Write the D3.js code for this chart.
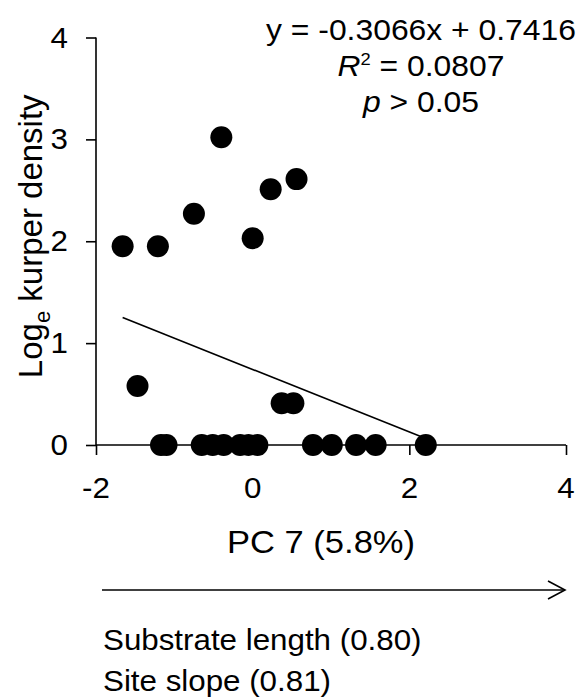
<!DOCTYPE html>
<html>
<head>
<meta charset="utf-8">
<script src="https://cdn.jsdelivr.net/npm/d3@7"></script>
<style>
  html, body { margin: 0; padding: 0; background: #fff; }
  svg { display: block; }
  text { font-family: "Liberation Sans", Arial, sans-serif; fill: #000; }
</style>
</head>
<body>
<svg id="chart" width="579" height="699"></svg>
<script>
// PC 7 site scores and log-transformed kurper density
const pcScores = [-1.66, -1.21, -0.75, -0.40, 0.00, 0.23, 0.56,
                  -1.47, 0.37, 0.52,
                  -1.17, -1.10, -0.65, -0.51, -0.37, -0.16, -0.05, 0.06,
                  0.77, 1.01, 1.32, 1.57, 2.21];
const logDensity = [1.95, 1.95, 2.27, 3.02, 2.03, 2.51, 2.61,
                    0.58, 0.41, 0.41,
                    0, 0, 0, 0, 0, 0, 0, 0,
                    0, 0, 0, 0, 0];
const xTicks = [-2, 0, 2, 4];
const yTicks = [0, 1, 2, 3, 4];
const slope = -0.3066;
const intercept = 0.7416;
const rSquared = "0.0807";
const loadings = ["Substrate length (0.80)", "Site slope (0.81)"];

const svg = d3.select("#chart");
const x = d3.scaleLinear().domain([-2, 4]).range([96, 566]);
const y = d3.scaleLinear().domain([0, 4]).range([445, 37.5]);
const SX = 1.08;     // slight horizontal widening of glyphs

// places a text node with horizontally widened glyphs
function label(px, py, anchor, size) {
  return svg.append("g")
    .attr("transform", `translate(${px},${py}) scale(${SX},1)`)
    .append("text")
    .attr("text-anchor", anchor)
    .style("font-size", size + "px");
}

// axes
const yAxis = svg.append("g")
  .attr("transform", `translate(${x(-2)},0)`)
  .call(d3.axisLeft(y).tickValues(yTicks).tickSize(10).tickFormat(""));
const xAxis = svg.append("g")
  .attr("transform", `translate(0,${y(0)})`)
  .call(d3.axisBottom(x).tickValues(xTicks).tickSize(10).tickFormat(""));
[yAxis, xAxis].forEach(a => {
  a.selectAll("path, line").attr("stroke", "#000").attr("stroke-width", 1.6);
});
// plain axis lines without outer end ticks
yAxis.select(".domain").attr("d", `M0,${y(4)}V${y(0)}`);
xAxis.select(".domain").attr("d", `M${x(-2)},0H${x(4)}`);

// tick labels
yTicks.forEach(t => label(68, y(t) + 10, "end", 29).text(t));
xTicks.forEach(t => label(x(t), 498, "middle", 29).text(t));

// regression line over the range of PC scores
const [xMin, xMax] = d3.extent(pcScores);
svg.append("line")
  .attr("x1", x(xMin)).attr("y1", y(slope * xMin + intercept))
  .attr("x2", x(xMax)).attr("y2", y(slope * xMax + intercept))
  .attr("stroke", "#000").attr("stroke-width", 1.6);

// points
svg.append("g").selectAll("circle")
  .data(pcScores.map((v, i) => [v, logDensity[i]]))
  .join("circle")
  .attr("cx", d => x(d[0]))
  .attr("cy", d => y(d[1]))
  .attr("r", 11)
  .attr("fill", "#000");

// regression statistics
label(421, 40, "middle", 29.5).text(`y = ${slope}x + ${intercept}`);
const r2 = label(421, 76, "middle", 29.5);
r2.append("tspan").style("font-style", "italic").text("R");
r2.append("tspan").style("font-size", "17px").attr("dy", -11).text("2");
r2.append("tspan").attr("dy", 11).text(" = " + rSquared);
const pv = label(421, 112, "middle", 29.5);
pv.append("tspan").style("font-style", "italic").text("p");
pv.append("tspan").text(" > 0.05");

// y-axis title
const yt = svg.append("g")
  .attr("transform", `translate(42,${(y(0) + y(4)) / 2 - 5}) rotate(-90)`)
  .append("text").attr("text-anchor", "middle").style("font-size", "33px");
yt.append("tspan").text("Log");
yt.append("tspan").style("font-size", "22px").attr("dy", 8).text("e");
yt.append("tspan").attr("dy", -8).text(" kurper density");

// x-axis title
label((x(-2) + x(4)) / 2 - 10, 553, "middle", 32).text("PC 7 (5.8%)");

// direction arrow along PC 7
const ay = 590;
svg.append("line").attr("x1", 102).attr("y1", ay).attr("x2", 565).attr("y2", ay)
  .attr("stroke", "#000").attr("stroke-width", 1.6);
svg.append("path")
  .attr("d", `M548,${ay - 9}L565,${ay}L548,${ay + 9}`)
  .attr("fill", "none").attr("stroke", "#000").attr("stroke-width", 1.6);

// variable loadings on PC 7
loadings.forEach((t, i) => label(103, 650 + i * 41, "start", 29).text(t));
</script>
</body>
</html>
